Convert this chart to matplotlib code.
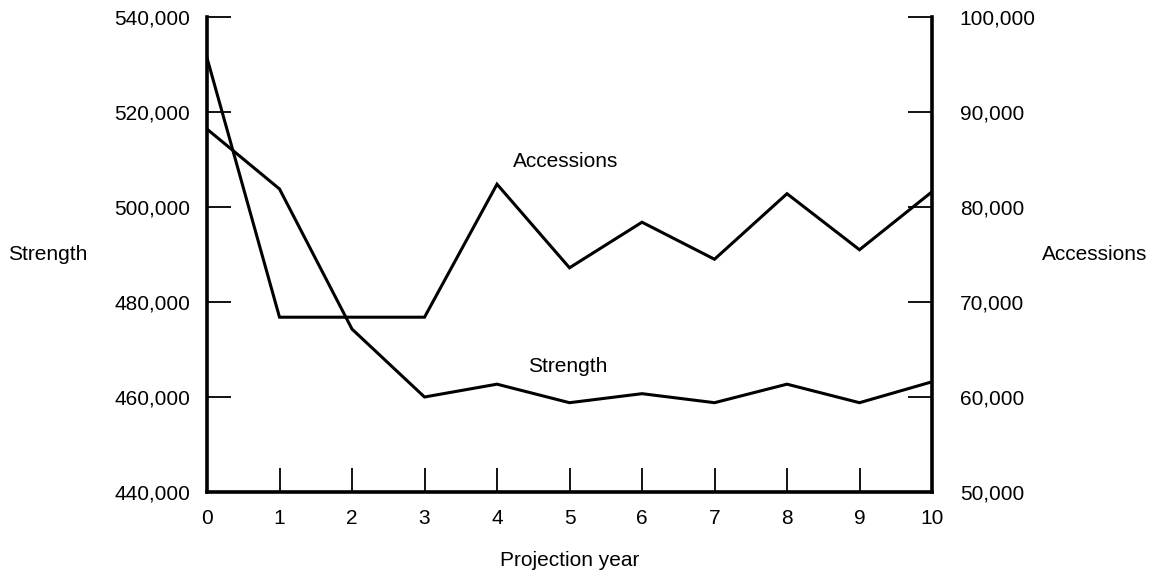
import matplotlib.pyplot as plt

plt.rcParams['font.family'] = ['Liberation Sans', 'DejaVu Sans']

years = list(range(11))
strength = [516400, 503800, 474300, 460000, 462700, 458800,
            460700, 458800, 462700, 458800, 463200]
accessions = [95700, 68400, 68400, 68400, 82400, 73600,
              78400, 74500, 81400, 75500, 81600]

left_ticks = [440000, 460000, 480000, 500000, 520000, 540000]
right_ticks = [50000, 60000, 70000, 80000, 90000, 100000]

fs = 15

fig = plt.figure(figsize=(11.7, 5.83), dpi=100)
ax = fig.add_axes([207 / 1170, 91 / 583, 725 / 1170, 475 / 583])
ax2 = ax.twinx()

ax.plot(years, strength, color='black', lw=2.2, solid_joinstyle='miter')
ax2.plot(years, accessions, color='black', lw=2.2, solid_joinstyle='miter')

ax.set_xlim(0, 10)
ax.set_ylim(440000, 540000)
ax2.set_ylim(50000, 100000)

ax.set_xticks(years)
ax.set_yticks(left_ticks)
ax.set_yticklabels([f"{v:,}" for v in left_ticks], fontsize=fs)
ax2.set_yticks(right_ticks)
ax2.set_yticklabels([f"{v:,}" for v in right_ticks], fontsize=fs)
ax.set_xticklabels([str(y) for y in years], fontsize=fs)

for a in (ax, ax2):
    a.spines['top'].set_visible(False)
    for s in ('left', 'right', 'bottom'):
        a.spines[s].set_linewidth(2.6)
ax.spines['right'].set_visible(False)
ax2.spines['left'].set_visible(False)
ax2.spines['bottom'].set_visible(False)

ax.tick_params(axis='x', direction='in', length=17, width=1.3, pad=12)
ax.tick_params(axis='y', direction='in', length=17, width=1.3, pad=12)
ax2.tick_params(axis='y', direction='in', length=17, width=1.3, pad=20)

ax.set_xlabel("Projection year", fontsize=fs, labelpad=17)
ax.set_ylabel("Strength", fontsize=fs, rotation=0, ha='left', va='center')
ax.yaxis.set_label_coords(-0.274, 0.5)
ax2.set_ylabel("Accessions", fontsize=fs, rotation=0, ha='left', va='center')
ax2.yaxis.set_label_coords(1.152, 0.5)

ax.text(4.94, 509500, "Accessions", fontsize=fs, ha='center', va='center')
ax.text(4.98, 466500, "Strength", fontsize=fs, ha='center', va='center')

fig.savefig("out.png", dpi=100)
